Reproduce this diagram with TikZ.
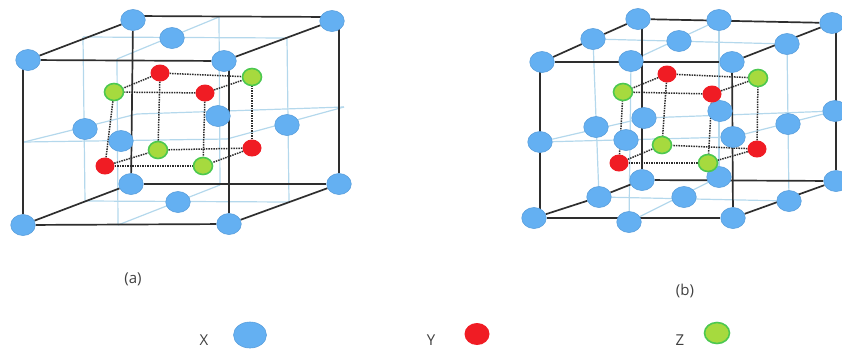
\documentclass[tikz,border=0pt]{standalone}
\usepackage{fontspec}
\setmainfont{Open Sans}
\usetikzlibrary{shapes.geometric,backgrounds}
\definecolor{xblue}{HTML}{64B0F2}
\definecolor{xrim}{HTML}{5A9FDC}
\definecolor{yred}{HTML}{F01C24}
\definecolor{zfill}{HTML}{A6DA3E}
\definecolor{zrim}{HTML}{4CC850}
\definecolor{midblue}{HTML}{B4D8EC}
\definecolor{edgegray}{HTML}{2E2E2E}
\definecolor{labelgray}{HTML}{404040}
\begin{document}
\begin{tikzpicture}[x=1pt,y=-1pt,inner sep=0pt,
    xatom/.style={ellipse,draw=xrim,fill=xblue,line width=.6pt,minimum width=24.5pt,minimum height=21pt},
    yatom/.style={ellipse,fill=yred,minimum width=19pt,minimum height=17pt},
    zatom/.style={ellipse,draw=zrim,fill=zfill,line width=1.6pt,minimum width=19pt,minimum height=17pt},
    cubeedge/.style={draw=edgegray,line width=1.7pt},
    midline/.style={draw=midblue,line width=1.2pt},
    innerdot/.style={draw=edgegray,line width=1.5pt,densely dotted},
    caption/.style={text=labelgray,font=\fontsize{15}{18}\selectfont}]
    \useasboundingbox (0,0) rectangle (842,349);
    % cube (a)
    \node[xatom] (aftl) at (28,60) {};
    \node[xatom] (aftr) at (224,61) {};
    \node[xatom] (afbl) at (23,225) {};
    \node[xatom] (afbr) at (229,224) {};
    \node[xatom] (abtl) at (133,20) {};
    \node[xatom] (abtr) at (332,21) {};
    \node[xatom] (abbl) at (131,184) {};
    \node[xatom] (abbr) at (339,184) {};
    \node[xatom] (atop) at (172,38) {};
    \node[xatom] (abot) at (178,202) {};
    \node[xatom] (alef) at (85,129) {};
    \node[xatom] (arig) at (287,125) {};
    \node[xatom] (afro) at (121,141) {};
    \node[xatom] (abac) at (218,116) {};
    \node[yatom] (ay1) at (160,73) {};
    \node[yatom] (ay2) at (205,93) {};
    \node[yatom] (ay3) at (105,166) {};
    \node[yatom] (ay4) at (252,148) {};
    \node[zatom] (az1) at (252,77) {};
    \node[zatom] (az2) at (114,92) {};
    \node[zatom] (az3) at (203,166) {};
    \node[zatom] (az4) at (158,150) {};
    \coordinate (am1) at (83,37);
    \coordinate (am2) at (287,38);
    \coordinate (am3) at (289,202);
    \coordinate (am4) at (85,201);
    \coordinate (an1) at (117,59);
    \coordinate (an2) at (219,17);
    \coordinate (an3) at (220,185);
    \coordinate (an4) at (118,225);
    \coordinate (ah1) at (24,142);
    \coordinate (ah2) at (227,139);
    \coordinate (ah3) at (344,107);
    \coordinate (ah4) at (137,114);
    % cube (b)
    \node[xatom] (bftl) at (542,62) {};
    \node[xatom] (bftr) at (732,62) {};
    \node[xatom] (bfbl) at (534,218) {};
    \node[xatom] (bfbr) at (733,218) {};
    \node[xatom] (bbtl) at (638,19) {};
    \node[xatom] (bbtr) at (832,23) {};
    \node[xatom] (bbbl) at (642,180) {};
    \node[xatom] (bbbr) at (836,181) {};
    \node[xatom] (bet1) at (631,61) {};
    \node[xatom] (bet2) at (719,20) {};
    \node[xatom] (bet3) at (593,39) {};
    \node[xatom] (bet4) at (787,44) {};
    \node[xatom] (beb1) at (629,222) {};
    \node[xatom] (beb2) at (719,177) {};
    \node[xatom] (beb3) at (599,197) {};
    \node[xatom] (beb4) at (789,201) {};
    \node[xatom] (bev1) at (540,142) {};
    \node[xatom] (bev2) at (733,137) {};
    \node[xatom] (bev3) at (644,118) {};
    \node[xatom] (bev4) at (835,111) {};
    \node[xatom] (btop) at (679,41) {};
    \node[xatom] (bbot) at (684,197) {};
    \node[xatom] (blef) at (596,127) {};
    \node[xatom] (brig) at (788,124) {};
    \node[xatom] (bfro) at (626,140) {};
    \node[xatom] (bbac) at (720,111) {};
    \node[yatom] (by1) at (667,74) {};
    \node[yatom] (by2) at (712,94) {};
    \node[yatom] (by3) at (619,163) {};
    \node[yatom] (by4) at (757,149) {};
    \node[zatom] (bz1) at (758,78) {};
    \node[zatom] (bz2) at (623,92) {};
    \node[zatom] (bz3) at (708,163) {};
    \node[zatom] (bz4) at (662,145) {};
    % captions and legend
    \node[caption] (capa) at (133,279) {(a)};
    \node[caption] (capb) at (685,291) {(b)};
    \node[caption] (labx) at (204,340) {X};
    \node[xatom,minimum width=33pt,minimum height=26pt] (legx) at (250,335) {};
    \node[caption] (laby) at (431,340) {Y};
    \node[yatom,minimum width=25pt,minimum height=22pt] (legy) at (477,334) {};
    \node[caption] (labz) at (680,340) {Z};
    \node[zatom,minimum width=25pt,minimum height=21pt] (legz) at (717,333) {};
    \begin{scope}[on background layer]
    \path[midline]
        (am1) edge (am2) edge (am4)
        (am3) edge (am2) edge (am4)
        (an1) edge (an2) edge (an4)
        (an3) edge (an2) edge (an4)
        (ah1) edge (ah2) edge (ah4)
        (ah3) edge (ah2) edge (ah4)
        (bet3) edge (bet4) edge (beb3)
        (beb4) edge (bet4) edge (beb3)
        (bet1) edge (bet2) edge (beb1)
        (beb2) edge (bet2) edge (beb1)
        (bev1) edge (bev2) edge (bev3)
        (bev4) edge (bev2) edge (bev3);
    \path[cubeedge]
        (aftl) edge (aftr) edge (abtl)
        (afbl) edge (afbr) edge (abbl)
        (aftr) edge (abtr)
        (afbr) edge (abbr)
        (abbl) edge (abbr)
        (abtl) edge (abbl)
        ([yshift=4pt]abtl.center) edge ([yshift=4pt]abtr.center)
        (afbl |- aftl) edge (afbl)
        (afbr |- aftr) edge (afbr)
        (abbr |- abtr) edge (abbr)
        (bftl) edge (bftr) edge (bet3)
        (bet3) edge (bbtl)
        (bfbl) edge (bfbr) edge (beb3)
        (beb3) edge (bbbl)
        (bftr) edge (bbtr)
        (bfbr) edge (bbbr)
        (bbbl) edge (bbbr)
        (bbtl) edge (bbtr)
        (bbbl |- bbtl) edge (bbbl)
        (bev1 |- bftl) edge (bev1 |- bfbl)
        (bftr) edge (bfbr)
        (bbbr |- bbtr) edge (bbbr);
    \path[innerdot]
        (ay1) edge (az1) edge (az2) edge (az4)
        (ay2) edge (az1) edge (az2) edge (az3)
        (ay3) edge (az2) edge (az3) edge (az4)
        (ay4) edge (az1) edge (az3) edge (az4)
        (by1) edge (bz1) edge (bz2) edge (bz4)
        (by2) edge (bz1) edge (bz2) edge (bz3)
        (by3) edge (bz2) edge (bz3) edge (bz4)
        (by4) edge (bz1) edge (bz3) edge (bz4);
    \end{scope}
\end{tikzpicture}
\end{document}
